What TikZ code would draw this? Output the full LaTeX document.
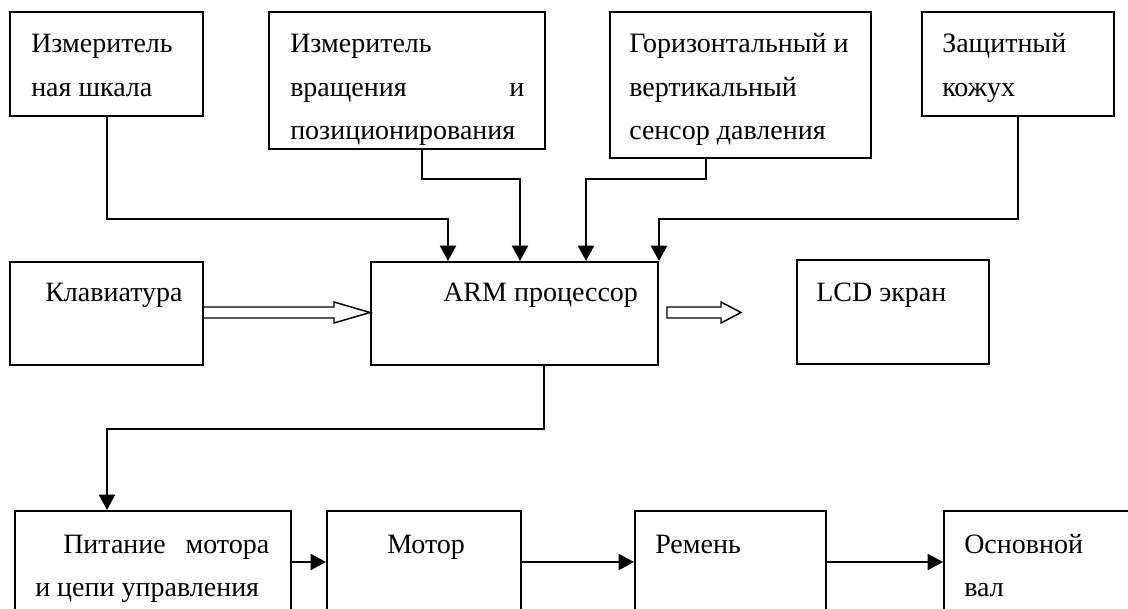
\documentclass[tikz,border=0pt]{standalone}
\usepackage{fontspec}
\setmainfont{Liberation Serif}
\usetikzlibrary{arrows.meta,calc}
\tikzset{
 box/.style={draw, line width=1.5pt, inner sep=0pt, anchor=north west},
 conn/.style={line width=1.5pt, -{Triangle[length=11.5pt,width=12pt]}},
 lbl/.style={anchor=base west, inner sep=0pt, font=\fontsize{21pt}{32pt}\selectfont},
 hollow/.style={draw, line width=1.1pt, fill=white, line join=miter},
}
\newcommand{\mybox}[5]{\node[box, minimum width={(#4-#2)*0.75pt}, minimum height={(#5-#3)*0.75pt}] (#1) at (#2,#3) {};}
\begin{document}
\begin{tikzpicture}[x=0.75pt,y=-0.75pt]
\clip (0,0) rectangle (1128,609);
\fill[white] (0,0) rectangle (1128,609);
% boxes
\mybox{b1}{9}{11}{202}{115}
\mybox{b2}{268}{11}{544}{148}
\mybox{b3}{609}{11}{870}{157}
\mybox{b4}{921}{11}{1113}{115}
\mybox{kb}{9}{261}{202}{364}
\mybox{arm}{370}{261}{657}{364}
\mybox{lcd}{796}{259}{988}{363}
\mybox{pa}{14}{510}{290}{640}
\mybox{mo}{326}{510}{520}{640}
\mybox{re}{634}{510}{825}{640}
\mybox{ov}{943}{510}{1150}{640}
% texts
\node[lbl] (t1a) at (31,53) {Измеритель};
\node[lbl] (t1b) at (31,96.5) {ная шкала};
\node[lbl] (t2a) at (290,53) {Измеритель};
\node[lbl] (t2b) at (290,96.5) {\makebox[175.5pt][l]{вращения\hfill и}};
\node[lbl] (t2c) at (290,140) {позиционирования};
\node[lbl] (t3a) at (629,53) {Горизонтальный и};
\node[lbl] (t3b) at (629,96.5) {вертикальный};
\node[lbl] (t3c) at (629,140) {сенсор давления};
\node[lbl] (t4a) at (942,53) {Защитный};
\node[lbl] (t4b) at (942,96.5) {кожух};
\node[lbl] (kbt) at (45,302) {Клавиатура};
\node[lbl] (armt) at (443,302) {ARM процессор};
\node[lbl] (lcdt) at (816,302) {LCD экран};
\node[lbl] (pat1) at (63,553) {\makebox[154.5pt][l]{Питание\hfill мотора}};
\node[lbl] (pat2) at (35,596) {и цепи управления};
\node[lbl] (mot) at (387,553) {Мотор};
\node[lbl] (ret) at (655,553) {Ремень};
\node[lbl] (ovt1) at (964,553) {Основной};
\node[lbl] (ovt2) at (964,596) {вал};
% connectors into ARM
\draw[conn] (b1.south) -- (b1.south |- 0,219) -| ($(arm.north west)+(78,0)$);
\draw[conn] ($(b2.south west)+(154,0)$) -- ++(0,29) -| ($(arm.north west)+(150,0)$);
\draw[conn] ($(b3.south west)+(97,0)$) -- ++(0,20) -| ($(arm.north west)+(216,0)$);
\draw[conn] (b4.south) -- (b4.south |- 0,219) -| (arm.north east);
% ARM to power
\draw[conn] ($(arm.south west)+(174,0)$) -- ++(0,63) -| ($(pa.north west)+(93,0)$);
% bottom chain
\draw[conn] ($(pa.north east)+(0,52)$) -- ($(mo.north west)+(0,52)$);
\draw[conn] ($(mo.north east)+(0,52)$) -- ($(re.north west)+(0,52)$);
\draw[conn] ($(re.north east)+(0,52)$) -- ($(ov.north west)+(0,52)$);
% hollow arrows
\draw[hollow] ($(kb.north east)+(0,46)$) -- ++(130,0) -- ++(0,-5) -- ($(arm.north west)+(0,51.5)$) -- ($(kb.north east)+(130,62)$) -- ++(0,-5) -- ($(kb.north east)+(0,57)$);
\coordinate (lcdtip) at ($(arm.north east)+(82,51.5)$);
\draw[hollow] ($(arm.north east)+(8,46)$) -- ++(54,0) -- ++(0,-5) -- (lcdtip) -- ($(arm.north east)+(62,62)$) -- ++(0,-5) -- ($(arm.north east)+(8,57)$) -- cycle;
\end{tikzpicture}
\end{document}
